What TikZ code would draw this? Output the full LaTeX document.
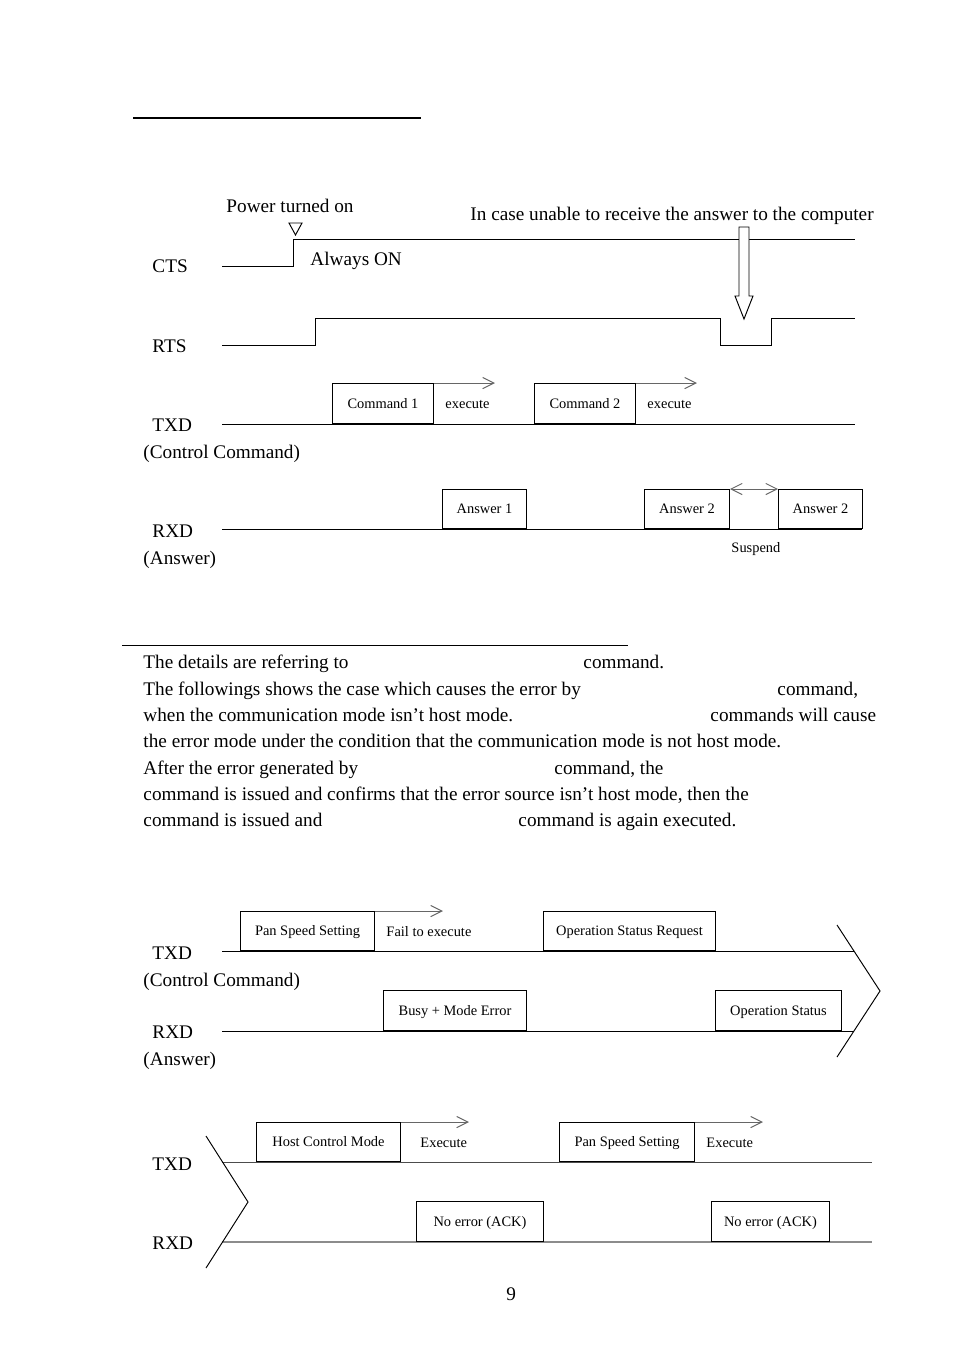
\documentclass[tikz,border=0pt]{standalone}
\usepackage{fontspec}
\setmainfont{Liberation Serif}
\usetikzlibrary{arrows.meta}
\newlength\ux
\setlength\ux{0.624pt}
\begin{document}
\begin{tikzpicture}[x=0.624pt, y=-0.624pt, line width=0.6pt,
    lbl/.style={anchor=base west, inner sep=0pt, font=\fontsize{12}{14}\selectfont},
    sbox/.style={draw, fill=white, rectangle, inner sep=0pt, anchor=south west,
      minimum height=40\ux, font=\fontsize{9}{11}\selectfont, text height=6pt, text depth=0pt},
    snote/.style={anchor=west, inner sep=0pt, font=\fontsize{9}{11}\selectfont, text height=6pt, text depth=0pt},
    exe/.style={draw=black!60, -{Straight Barb[length=7pt,width=7pt]}},
    exetwo/.style={draw=black!60, {Straight Barb[length=7pt,width=7pt]}-{Straight Barb[length=7pt,width=7pt]}}]
  \useasboundingbox (0,0) rectangle (954,1351);
  % heading rule
  \draw[line width=1.3pt] (133,118) -- (421,118);

  % CTS / RTS
  \node[lbl] (pwr) at (226,213) {Power turned on};
  \node[lbl] (incase) at (470,221) {In case unable to receive the answer to the computer};
  \draw (289,223) -- (302,223) -- (295.5,235) -- cycle;
  \node[lbl] (cts) at (152,273) {CTS};
  \node[lbl] (always) at (310,266) {Always ON};
  \coordinate (cts0) at (222,266);
  \coordinate (cts1) at (855,239);
  \draw (cts0) -- (293,266) -- (293,239) -- (cts1);
  \node[lbl] (rts) at (152,353) {RTS};
  \coordinate (rts0) at (222,345);
  \coordinate (rts1) at (855,318);
  \draw (rts0) -- (315,345) -- (315,318) -- (720,318) -- (720,345) -- (771,345) -- (771,318) -- (rts1);
  \draw[fill=white] (739,227) -- (739,296) -- (735,296) -- (744,319) -- (753,296) -- (749,296) -- (749,227) -- cycle;

  % TXD / RXD
  \node[lbl] (txd) at (152,432) {TXD};
  \node[lbl] (ctl) at (143,458) {(Control Command)};
  \coordinate (txd0) at (222,424);
  \coordinate (txd1) at (855,424);
  \draw (txd0) -- (txd1);
  \node[sbox, minimum width=101\ux] (cmd1) at (332,424) {Command 1};
  \node[sbox, minimum width=101\ux] (cmd2) at (534,424) {Command 2};
  \draw[exe] (cmd1.north east) -- ++(61,0);
  \draw[exe] (cmd2.north east) -- ++(61,0);
  \node[snote] (exe1) at (445,404) {execute};
  \node[snote] (exe2) at (647,404) {execute};

  \node[lbl] (rxd) at (152,537) {RXD};
  \node[lbl] (ans) at (143,564) {(Answer)};
  \coordinate (rxd0) at (222,529);
  \coordinate (rxd1) at (862,529);
  \draw (rxd0) -- (rxd1);
  \node[sbox, minimum width=84\ux, minimum height=39\ux] (ans1) at (442,529) {Answer 1};
  \node[sbox, minimum width=85\ux, minimum height=39\ux] (ans2a) at (644,529) {Answer 2};
  \node[sbox, minimum width=84\ux, minimum height=39\ux] (ans2b) at (778,529) {Answer 2};
  \draw (ans2a.south east) -- (ans2a.north east);
  \draw[exetwo] (ans2a.north east) -- (ans2b.north west);
  \node[snote] (susp) at (731,548) {Suspend};

  % text block
  \draw (122,645) -- (628,645);
  \node[lbl] (t1a) at (143,668) {The details are referring to};
  \node[lbl] (t1b) at (583,668) {command.};
  \node[lbl] (t2a) at (143,695) {The followings shows the case which causes the error by};
  \node[lbl] (t2b) at (777,695) {command,};
  \node[lbl] (t3a) at (143,721) {when the communication mode isn’t host mode.};
  \node[lbl] (t3b) at (710,721) {commands will cause};
  \node[lbl] (t4) at (143,747) {the error mode under the condition that the communication mode is not host mode.};
  \node[lbl] (t5a) at (143,774) {After the error generated by};
  \node[lbl] (t5b) at (554,774) {command, the};
  \node[lbl] (t6) at (143,800) {command is issued and confirms that the error source isn’t host mode, then the};
  \node[lbl] (t7a) at (143,826) {command is issued and};
  \node[lbl] (t7b) at (518,826) {command is again executed.};

  % error case
  \node[lbl] (txdb) at (152,959) {TXD};
  \node[lbl] (ctlb) at (143,986) {(Control Command)};
  \node[lbl] (rxdb) at (152,1038) {RXD};
  \node[lbl] (ansb) at (143,1065) {(Answer)};
  \coordinate (txdb0) at (222,951);
  \coordinate (txdb1) at (854,951);
  \coordinate (rxdb0) at (222,1031);
  \coordinate (rxdb1) at (854,1031);
  \draw (txdb0) -- (txdb1);
  \draw (rxdb0) -- (rxdb1);
  \node[sbox, minimum width=134\ux, minimum height=39\ux] (pss1) at (240,951) {Pan Speed Setting};
  \draw[exe] (pss1.north east) -- ++(68,0);
  \node[snote] (fail) at (386,931.5) {Fail to execute};
  \node[sbox, minimum width=172\ux, minimum height=39\ux] (osr) at (543,951) {Operation Status Request};
  \node[sbox, minimum width=143\ux] (bme) at (383,1031) {Busy + Mode Error};
  \node[sbox, minimum width=126\ux] (ost) at (715,1031) {Operation Status};
  \draw (837,925) -- (880,991) -- (837,1057);

  % recovery
  \node[lbl] (txdc) at (152,1170) {TXD};
  \node[lbl] (rxdc) at (152,1249) {RXD};
  \coordinate (txdc0) at (222,1162);
  \coordinate (txdc1) at (872,1162);
  \coordinate (rxdc0) at (222,1242);
  \coordinate (rxdc1) at (872,1242);
  \draw[black!70] (txdc0) -- (txdc1);
  \draw[black!45, line width=1pt] (rxdc0) -- (rxdc1);
  \node[sbox, minimum width=144\ux, minimum height=39\ux] (hcm) at (256,1162) {Host Control Mode};
  \draw[exe] (hcm.north east) -- ++(68,0);
  \node[snote] (exe3) at (420,1142.5) {Execute};
  \node[sbox, minimum width=135\ux, minimum height=39\ux] (pss2) at (559,1162) {Pan Speed Setting};
  \draw[exe] (pss2.north east) -- ++(68,0);
  \node[snote] (exe4) at (706,1142.5) {Execute};
  \node[sbox, minimum width=127\ux] (ack1) at (416,1242) {No error (ACK)};
  \node[sbox, minimum width=118\ux] (ack2) at (711,1242) {No error (ACK)};
  \draw (206,1136) -- (248,1202) -- (206,1268);

  \node[lbl] (page) at (506,1300) {9};
\end{tikzpicture}
\end{document}
